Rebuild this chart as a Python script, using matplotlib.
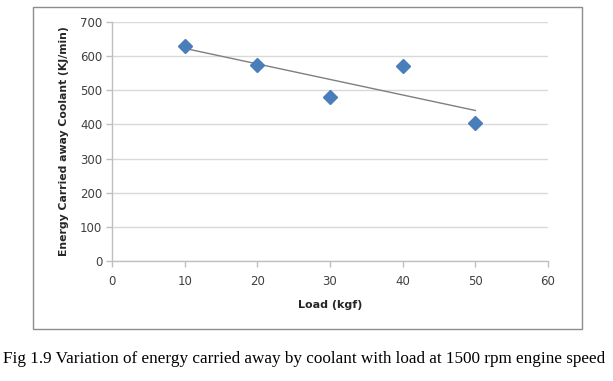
import numpy as np
import matplotlib
matplotlib.use("Agg")
import matplotlib.pyplot as plt
from matplotlib.patches import Rectangle

load = [10, 20, 30, 40, 50]
energy = [630, 575, 480, 570, 405]
xticks = [0, 10, 20, 30, 40, 50, 60]
yticks = [0, 100, 200, 300, 400, 500, 600, 700]
xlabel = "Load (kgf)"
ylabel = "Energy Carried away Coolant (KJ/min)"
caption = "Fig 1.9 Variation of energy carried away by coolant with load at 1500 rpm engine speed"

fig = plt.figure(figsize=(6.13, 3.81), dpi=100)
fig.patch.set_facecolor("white")

# outer chart frame
fig.patches.append(Rectangle((0.054, 0.137), 0.895, 0.845, transform=fig.transFigure,
                             fill=False, edgecolor="#8c8c8c", linewidth=1.0))

ax = fig.add_axes([0.1827, 0.315, 0.7113, 0.627])
ax.set_xlim(0, 60)
ax.set_ylim(0, 700)
ax.set_xticks(xticks)
ax.set_yticks(yticks)
ax.grid(axis="y", color="#d9d9d9", linewidth=1.0)
ax.set_axisbelow(True)
for s in ["top", "right"]:
    ax.spines[s].set_visible(False)
for s in ["left", "bottom"]:
    ax.spines[s].set_color("#bfbfbf")
    ax.spines[s].set_linewidth(1.0)
ax.tick_params(axis="both", colors="#bfbfbf", labelcolor="#404040", labelsize=8.5, length=4, width=1)
ax.tick_params(axis="y", pad=3)
ax.tick_params(axis="x", pad=6)

coef = np.polyfit(load, energy, 1)
xt = np.array([load[0], load[-1]])
ax.plot(xt, np.polyval(coef, xt), color="#7f7f7f", linewidth=1.0, zorder=2)
ax.plot(load, energy, linestyle="none", marker="D", markersize=7, color="#4a7ebb", zorder=3)

ax.set_xlabel(xlabel, fontsize=8, fontweight="bold", color="#262626", labelpad=9)
ax.set_ylabel(ylabel, fontsize=7.8, fontweight="bold", color="#262626", labelpad=8)

fig.text(0.496, 0.057, caption, ha="center", va="center", fontsize=12.3,
         family="Liberation Serif", color="black")

fig.savefig("out.png", dpi=100)
